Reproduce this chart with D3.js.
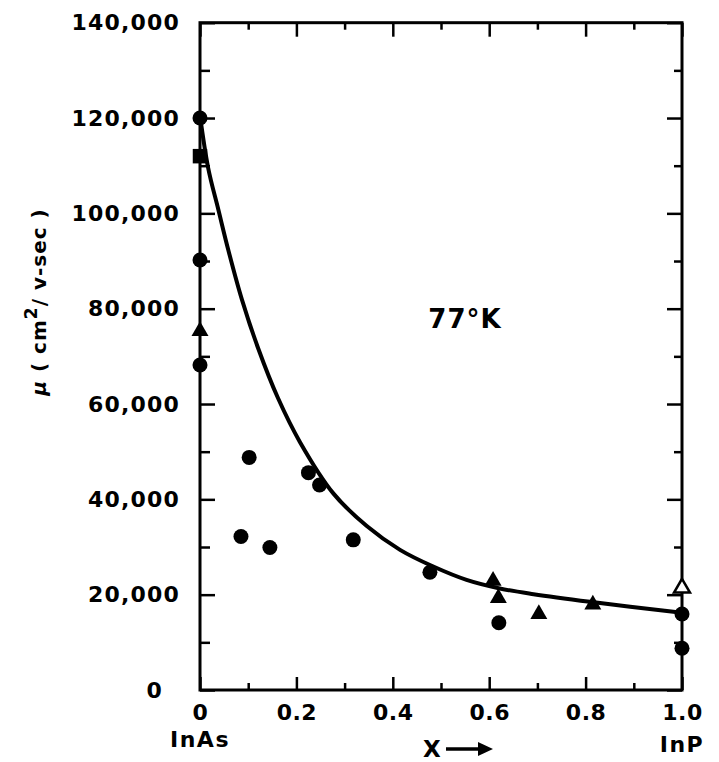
<!DOCTYPE html>
<html>
<head>
<meta charset="utf-8">
<script src="https://cdn.jsdelivr.net/npm/d3@7"></script>
<style>
  body { margin: 0; background: #fff; }
  text { font-family: "DejaVu Sans", sans-serif; font-weight: bold; fill: #000; }
</style>
</head>
<body>
<div class="grafico"></div>
<script>
// filled circles
var circX = [0, 0, 0, 0.085, 0.102, 0.145, 0.225, 0.248, 0.318, 0.477, 0.62, 1.0, 1.0];
var circY = [120000, 90200, 68200, 32200, 48800, 29900, 45600, 43000, 31500, 24700, 14100, 15950, 8750];
// filled triangles
var triX = [0, 0.608, 0.619, 0.703, 0.815];
var triY = [75300, 22900, 19300, 15950, 17900];
// filled square
var sqX = [0];
var sqY = [112000];
// open triangle
var openTriX = [1.0];
var openTriY = [21400];
// fitted curve
var curveX = [0, 0.017, 0.038, 0.059, 0.087, 0.121, 0.162, 0.2075, 0.277, 0.346, 0.415, 0.484, 0.553, 0.622, 0.692, 0.809, 1.0];
var curveY = [120500, 109500, 100800, 92200, 81900, 71600, 61200, 52000, 41200, 34400, 29400, 25900, 23100, 21300, 20100, 18500, 16200];

var yMajor = [0, 20000, 40000, 60000, 80000, 100000, 120000, 140000];
var yMinor = [10000, 30000, 50000, 70000, 90000, 110000, 130000];
var xMajor = [0, 0.2, 0.4, 0.6, 0.8, 1.0];
var xMinor = [0.1, 0.3, 0.5, 0.7, 0.9];

var svg = d3.select('.grafico')
  .append('svg')
  .attr('width', 719)
  .attr('height', 762);

var x = d3.scaleLinear().domain([0, 1]).range([200, 682]);
var y = d3.scaleLinear().domain([0, 140000]).range([690, 22.7]);

// ticks on all four sides, pointing inward
function ejes(g) {
  g.selectAll('.domain').remove();
  g.selectAll('line').attr('stroke', '#000').attr('stroke-width', 2.5);
}

svg.append('g')
  .attr('transform', 'translate(200,0)')
  .call(d3.axisLeft(y).tickValues(yMajor).tickSize(-15).tickSizeOuter(0).tickPadding(20)
    .tickFormat(d3.format(',')))
  .call(ejes)
  .call(g => g.selectAll('text')
    .attr('font-size', 22)
    .attr('letter-spacing', 1.2)
    .attr('font-family', 'DejaVu Sans')
    .attr('font-weight', 'bold')
    .attr('x', d => d === 0 ? -37 : -20));

svg.append('g')
  .attr('transform', 'translate(200,0)')
  .call(d3.axisLeft(y).tickValues(yMinor).tickSize(-10).tickSizeOuter(0).tickFormat(''))
  .call(ejes);

svg.append('g')
  .attr('transform', 'translate(682,0)')
  .call(d3.axisRight(y).tickValues(yMajor).tickSize(-15).tickSizeOuter(0).tickFormat(''))
  .call(ejes);

svg.append('g')
  .attr('transform', 'translate(682,0)')
  .call(d3.axisRight(y).tickValues(yMinor).tickSize(-8).tickSizeOuter(0).tickFormat(''))
  .call(ejes);

svg.append('g')
  .attr('transform', 'translate(0,690)')
  .call(d3.axisBottom(x).tickValues(xMajor).tickSize(-13).tickSizeOuter(0).tickPadding(14)
    .tickFormat(d => d === 0 ? '0' : d.toFixed(1)))
  .call(ejes)
  .call(g => g.selectAll('text')
    .attr('font-size', 22)
    .attr('letter-spacing', 0.5)
    .attr('font-family', 'DejaVu Sans')
    .attr('font-weight', 'bold'));

svg.append('g')
  .attr('transform', 'translate(0,690)')
  .call(d3.axisBottom(x).tickValues(xMinor).tickSize(-7).tickSizeOuter(0).tickFormat(''))
  .call(ejes);

svg.append('g')
  .attr('transform', 'translate(0,22.7)')
  .call(d3.axisTop(x).tickValues(xMajor).tickSize(-14).tickSizeOuter(0).tickFormat(''))
  .call(ejes);

svg.append('g')
  .attr('transform', 'translate(0,22.7)')
  .call(d3.axisTop(x).tickValues(xMinor).tickSize(-7).tickSizeOuter(0).tickFormat(''))
  .call(ejes);

// frame
svg.append('rect')
  .attr('x', x(0))
  .attr('y', y(140000))
  .attr('width', x(1) - x(0))
  .attr('height', y(0) - y(140000))
  .attr('fill', 'none')
  .attr('stroke', '#000')
  .attr('stroke-width', 3);

// curve
var linea = d3.line()
  .x(d => x(d[0]))
  .y(d => y(d[1]))
  .curve(d3.curveCatmullRom.alpha(0.5));

svg.append('path')
  .datum(d3.zip(curveX, curveY))
  .attr('d', linea)
  .attr('fill', 'none')
  .attr('stroke', '#000')
  .attr('stroke-width', 4);

// points
svg.selectAll('.circ')
  .data(d3.zip(circX, circY))
  .enter()
  .append('circle')
  .attr('class', 'circ')
  .attr('cx', d => x(d[0]))
  .attr('cy', d => y(d[1]))
  .attr('r', 7.5)
  .attr('fill', '#000');

var triangulo = d3.symbol().type(d3.symbolTriangle).size(125);

svg.selectAll('.tri')
  .data(d3.zip(triX, triY))
  .enter()
  .append('path')
  .attr('class', 'tri')
  .attr('d', triangulo)
  .attr('transform', d => 'translate(' + x(d[0]) + ',' + y(d[1]) + ')')
  .attr('fill', '#000');

svg.selectAll('.opentri')
  .data(d3.zip(openTriX, openTriY))
  .enter()
  .append('path')
  .attr('class', 'opentri')
  .attr('d', d3.symbol().type(d3.symbolTriangle).size(110))
  .attr('transform', d => 'translate(' + x(d[0]) + ',' + y(d[1]) + ')')
  .attr('fill', '#fff')
  .attr('stroke', '#000')
  .attr('stroke-width', 2.5);

svg.selectAll('.sq')
  .data(d3.zip(sqX, sqY))
  .enter()
  .append('path')
  .attr('class', 'sq')
  .attr('d', d3.symbol().type(d3.symbolSquare).size(210))
  .attr('transform', d => 'translate(' + x(d[0]) + ',' + y(d[1]) + ')')
  .attr('fill', '#000');

// labels
svg.append('text')
  .attr('x', 465)
  .attr('y', 328)
  .attr('text-anchor', 'middle')
  .attr('font-size', 26)
  .attr('letter-spacing', 1)
  .text('77°K');

svg.append('text')
  .attr('x', x(0))
  .attr('y', 747)
  .attr('text-anchor', 'middle')
  .attr('font-size', 22)
  .attr('letter-spacing', 1.5)
  .text('InAs');

svg.append('text')
  .attr('x', x(1))
  .attr('y', 752)
  .attr('text-anchor', 'middle')
  .attr('font-size', 22)
  .attr('letter-spacing', 1.5)
  .text('InP');

svg.append('text')
  .attr('x', 423)
  .attr('y', 757)
  .attr('font-size', 23)
  .text('X');

svg.append('line')
  .attr('x1', 446)
  .attr('x2', 482)
  .attr('y1', 749)
  .attr('y2', 749)
  .attr('stroke', '#000')
  .attr('stroke-width', 3.5);

svg.append('path')
  .attr('d', 'M478,742 L493,749 L478,756 Z')
  .attr('fill', '#000');

var titulo = svg.append('text')
  .attr('transform', 'translate(46,302) rotate(-90)')
  .attr('text-anchor', 'middle')
  .attr('font-size', 20)
  .attr('letter-spacing', 1);

titulo.append('tspan').attr('font-style', 'italic').text('μ');
titulo.append('tspan').text(' ( cm');
titulo.append('tspan').attr('dy', -9).attr('font-size', 17).text('2');
titulo.append('tspan').attr('dy', 9).text('/ v-sec )');
</script>
</body>
</html>
